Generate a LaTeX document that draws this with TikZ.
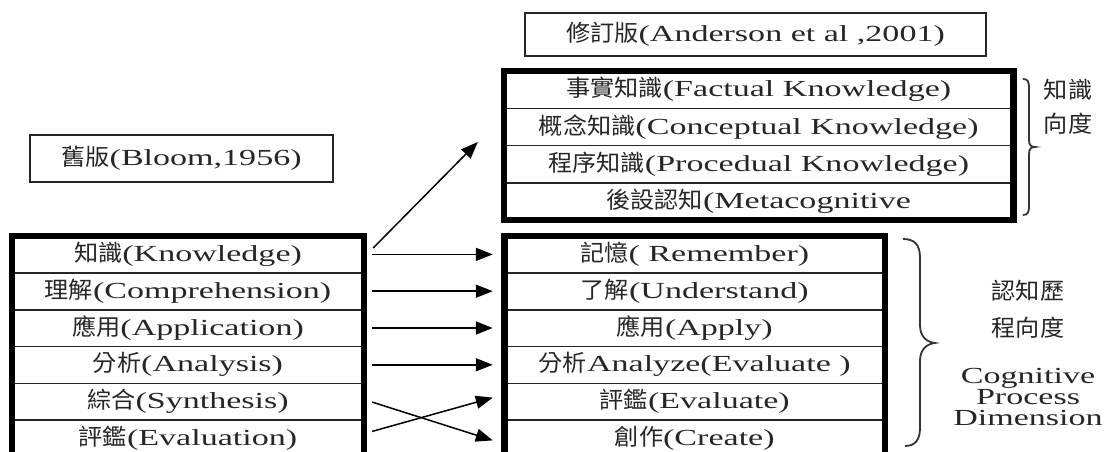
\documentclass[tikz,border=0pt]{standalone}
\usepackage{fontspec}
\setmainfont[FakeStretch=1.48]{Liberation Serif}
\newfontfamily\cjkfont[FakeStretch=1.05]{Noto Sans CJK TC}
\newcommand\zhtext[1]{{\cjkfont #1}}
\usetikzlibrary{arrows.meta,calc}

\begin{document}
\begin{tikzpicture}[x=1bp,y=-1bp,
  every node/.style={font=\fontsize{23bp}{27bp}\selectfont, text=black!85, inner sep=0pt},
  lcell/.style={minimum height=36.8bp, minimum width=352bp},
  rcell/.style={minimum height=36.8bp, minimum width=380.5bp},
  kcell/.style={minimum height=37.25bp, minimum width=509.5bp},
  heavy/.style={line width=6.5bp},
  rule/.style={line width=1.6bp, black!85},
  framebox/.style={draw, line width=1.4bp, black!85},
  link/.style={line width=1.5bp, -{Triangle[length=17bp,width=13bp]}},
  bracepath/.style={line width=1.8bp, black!80}
]
\path[use as bounding box] (0,0) rectangle (1116,452);
\clip (0,0) rectangle (1116,452);

% header boxes
\node[framebox, minimum width=461bp, minimum height=43bp] (rev) at (755.5,34.5)
  {\zhtext{修訂版}(Anderson et al ,2001)};
\node[framebox, minimum width=303bp, minimum height=47bp] (old) at (181.5,158.5)
  {\zhtext{舊版}(Bloom,1956)};

% knowledge dimension table
\node[kcell] (K1) at (758.75,89.625)  {\zhtext{事實知識}(Factual Knowledge)};
\node[kcell] (K2) at (758.75,126.875) {\zhtext{概念知識}(Conceptual Knowledge)};
\node[kcell] (K3) at (758.75,164.125) {\zhtext{程序知識}(Procedual Knowledge)};
\node[kcell] (K4) at (758.75,201.375) {\zhtext{後設認知}(Metacognitive};
\foreach \r in {K1,K2,K3} \draw[rule] (\r.south west) -- (\r.south east);
\draw[heavy] (K1.north west) rectangle (K4.south east);

% original taxonomy
\node[lcell] (L1) at (188,254.4) {\zhtext{知識}(Knowledge)};
\node[lcell] (L2) at (188,291.2) {\zhtext{理解}(Comprehension)};
\node[lcell] (L3) at (188,328.0) {\zhtext{應用}(Application)};
\node[lcell] (L4) at (188,364.8) {\zhtext{分析}(Analysis)};
\node[lcell] (L5) at (188,401.6) {\zhtext{綜合}(Synthesis)};
\node[lcell] (L6) at (188,438.4) {\zhtext{評鑑}(Evaluation)};
\foreach \r in {L1,L2,L3,L4,L5} \draw[rule] (\r.south west) -- (\r.south east);
\draw[heavy] (L1.north west) rectangle (L6.south east);

% revised cognitive process dimension
\node[rcell] (R1) at (694.75,254.4) {\zhtext{記憶}( Remember)};
\node[rcell] (R2) at (694.75,291.2) {\zhtext{了解}(Understand)};
\node[rcell] (R3) at (694.75,328.0) {\zhtext{應用}(Apply)};
\node[rcell] (R4) at (694.75,364.8) {\zhtext{分析}Analyze(Evaluate )};
\node[rcell] (R5) at (694.75,401.6) {\zhtext{評鑑}(Evaluate)};
\node[rcell] (R6) at (694.75,438.4) {\zhtext{創作}(Create)};
\foreach \r in {R1,R2,R3,R4,R5} \draw[rule] (\r.south west) -- (\r.south east);
\draw[heavy] (R1.north west) rectangle (R6.south east);

% mappings
\draw[link] ([xshift=9bp,yshift=6.4bp]L1.east) -- ([xshift=-26bp,yshift=-15.1bp]K2.west);
\foreach \i in {1,2,3,4}
  \draw[link] ([xshift=8bp]L\i.east) -- ([xshift=-11.5bp]R\i.west);
\draw[link] ([xshift=8bp,yshift=-0.5bp]L5.east) -- ([xshift=-11.5bp,yshift=-2bp]R6.west);
\draw[link] ([xshift=8bp,yshift=7bp]L6.east) -- ([xshift=-11.5bp,yshift=4bp]R5.west);

% braces
\draw[bracepath] (1023,79) .. controls (1028,79) and (1029,82) .. (1029,88)
  -- (1029,140) .. controls (1029,145) and (1031,147) .. (1035,147)
  .. controls (1031,147) and (1029,149) .. (1029,154)
  -- (1029,206) .. controls (1029,212) and (1028,215) .. (1023,215);
\draw[bracepath] (903,239) .. controls (915,239) and (920,245) .. (920,258)
  -- (920,325) .. controls (920,336) and (926,342) .. (935,343)
  .. controls (926,344) and (920,350) .. (920,361)
  -- (920,428) .. controls (920,440) and (915,446) .. (905,446);

% dimension labels
\node (kd1) at (1068,89.6)  {\zhtext{知識}};
\node (kd2) at (1068,124)   {\zhtext{向度}};
\node (cd1) at (1028,291.2) {\zhtext{認知歷}};
\node (cd2) at (1028,328)   {\zhtext{程向度}};
\node[align=center, font=\fontsize{23bp}{21bp}\selectfont] (cd3) at (1028,397)
  {Cognitive\\Process\\Dimension};
\end{tikzpicture}
\end{document}
